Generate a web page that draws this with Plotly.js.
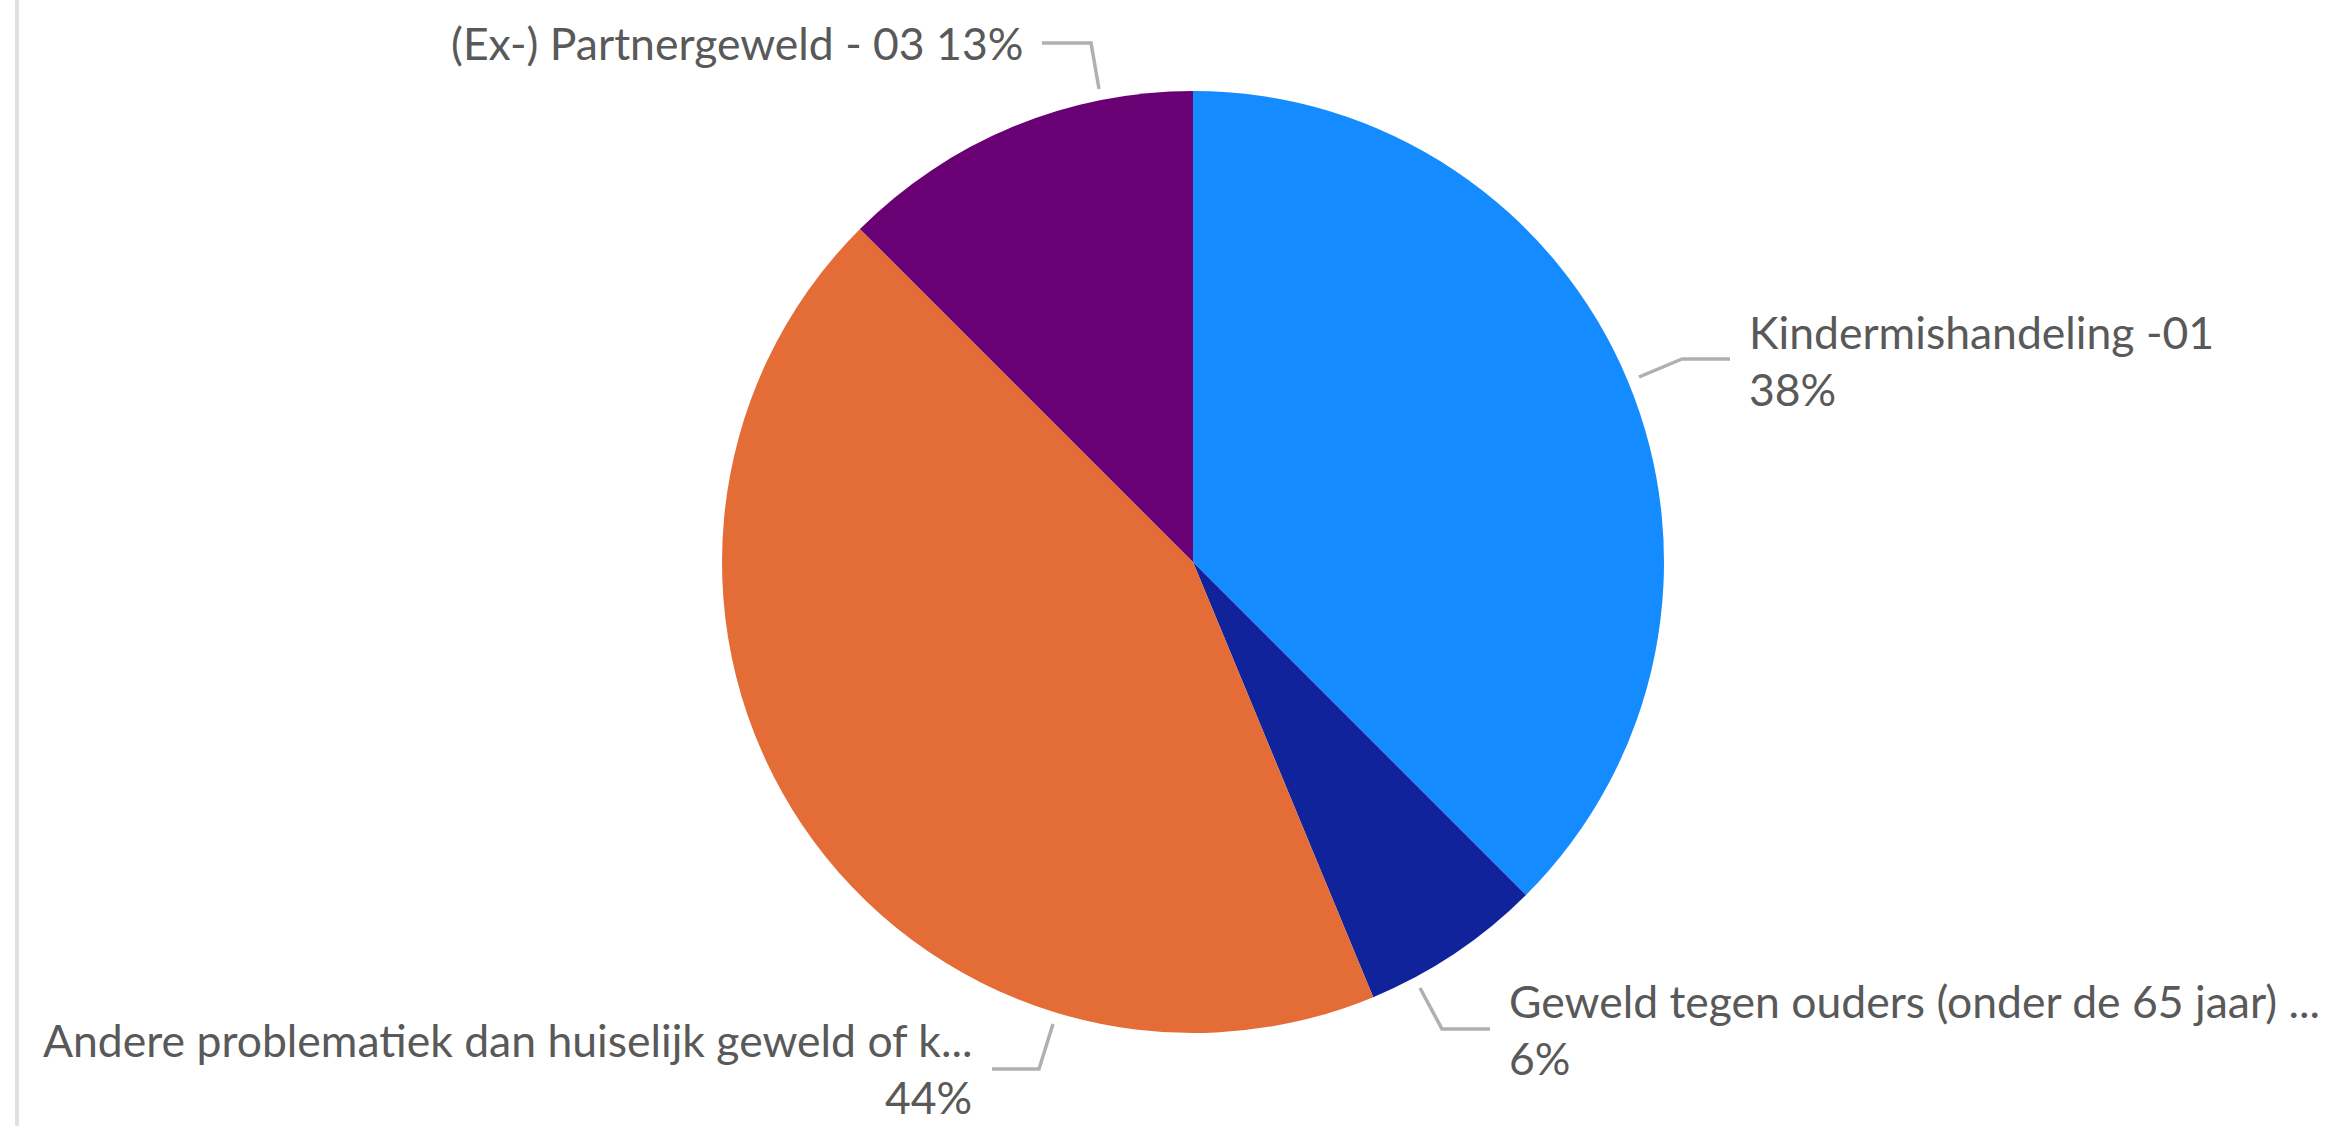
<!DOCTYPE html>
<html>
<head>
<meta charset="utf-8">
<script src="https://cdn.plot.ly/plotly-3.0.1.min.js"></script>
<style>
  html, body { margin: 0; padding: 0; background: #ffffff; }
  #chart { width: 2336px; height: 1126px; }
</style>
</head>
<body>
<div id="chart"></div>
<script>
// ---- Data ----
const categories = [
  "Kindermishandeling -01",
  "Geweld tegen ouders (onder de 65 jaar) ...",
  "Andere problematiek dan huiselijk geweld of k...",
  "(Ex-) Partnergeweld - 03"
];
const counts = [6, 1, 7, 2];
const sliceColors = ["#148CFF", "#10239B", "#E46C37", "#690073"];

// ---- Layout helpers ----
const W = 2336, H = 1126;
const px = x => x / W;
const py = y => 1 - y / H;
const total = counts.reduce((a, b) => a + b, 0);
const pct = counts.map(v => Math.round(v / total * 100) + "%");

const FONT = "Lato, 'Noto Sans', sans-serif";
const FS = 44.5;
const TXT = "#595959";
const LEAD = "#B0B0B0";

// pie geometry (pixels)
const cx = 1193, cy = 562, R = 471;

const trace = {
  type: "pie",
  labels: categories,
  values: counts,
  sort: false,
  direction: "clockwise",
  rotation: 0,
  textinfo: "none",
  hoverinfo: "label+percent",
  marker: { colors: sliceColors, line: { width: 0 } },
  domain: { x: [px(cx - R), px(cx + R)], y: [py(cy + R), py(cy - R)] },
  showlegend: false
};

// label placement (pixels): x edge, anchor, baselines of the two lines
const labelPlacement = [
  { i: 3, oneLine: true, x: 1024, anchor: "right", b1: 59 },
  { i: 0, oneLine: false, x: 1748, anchor: "left", b1: 348, b2: 405 },
  { i: 1, oneLine: false, x: 1508, anchor: "left", b1: 1017, b2: 1074 },
  { i: 2, oneLine: false, x: 973, anchor: "right", b1: 1056, b2: 1113 }
];
const BOFF = 16.5; // baseline -> middle of text box

const annotations = [];
labelPlacement.forEach(p => {
  const mk = (text, b) => ({
    xref: "paper", yref: "paper",
    x: px(p.x), y: py(b - BOFF),
    xanchor: p.anchor, yanchor: "middle",
    text: text, showarrow: false,
    font: { family: FONT, size: FS, color: TXT },
    borderpad: 0
  });
  if (p.oneLine) {
    annotations.push(mk(categories[p.i] + " " + pct[p.i], p.b1));
  } else {
    annotations.push(mk(categories[p.i], p.b1));
    annotations.push(mk(pct[p.i], p.b2));
  }
});

const leaders = [
  [[1042, 43], [1091, 43], [1099, 89]],
  [[1639, 377], [1682, 359], [1730, 359]],
  [[1420, 988], [1442, 1029], [1490, 1029]],
  [[1053, 1024], [1039, 1069], [992, 1069]]
];
const shapes = leaders.map(pts => ({
  type: "path",
  xref: "paper", yref: "paper",
  path: pts.map((p, k) => (k ? "L" : "M") + px(p[0]) + "," + py(p[1])).join(" "),
  line: { color: LEAD, width: 3.5 }
}));
shapes.push({
  type: "line", xref: "paper", yref: "paper",
  x0: px(17), x1: px(17), y0: 0, y1: 1,
  line: { color: "#E0E0E0", width: 4 }
});

const layout = {
  width: W, height: H,
  margin: { l: 0, r: 0, t: 0, b: 0, pad: 0 },
  paper_bgcolor: "#ffffff",
  plot_bgcolor: "#ffffff",
  showlegend: false,
  annotations: annotations,
  shapes: shapes
};

Plotly.newPlot("chart", [trace], layout, { displayModeBar: false, staticPlot: true });
</script>
</body>
</html>
